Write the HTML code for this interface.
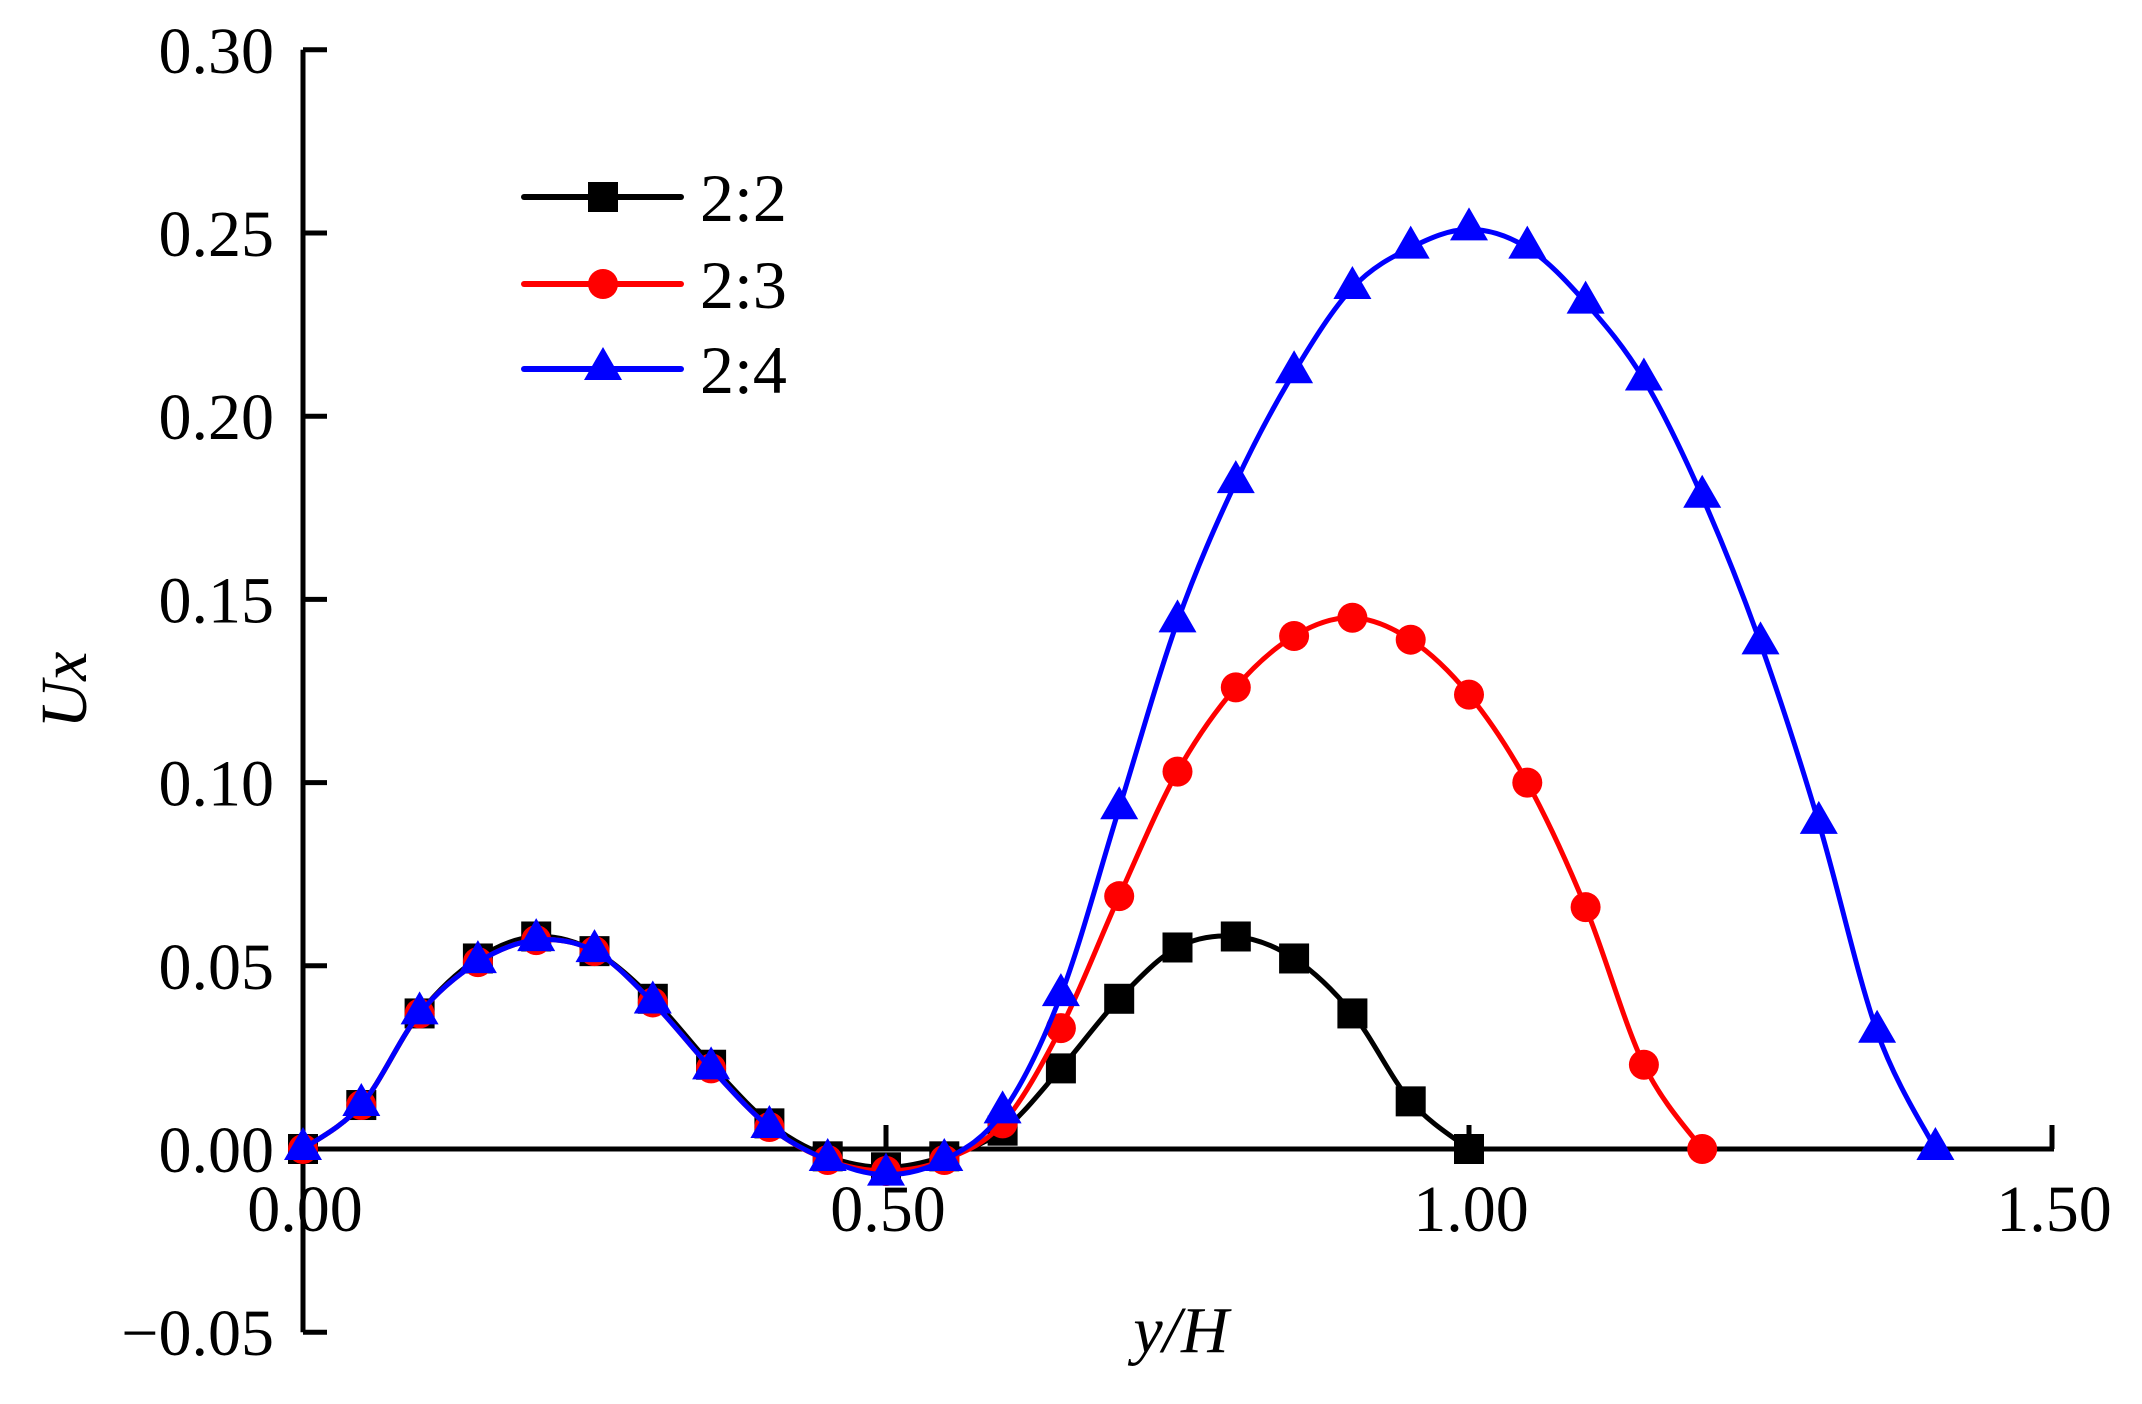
<!DOCTYPE html>
<html><head><meta charset="utf-8"><style>
html,body{margin:0;padding:0;background:#fff;}
svg{display:block;}
text{font-family:"Liberation Serif","DejaVu Serif",serif;}
</style></head><body>
<svg id="chart" width="2142" height="1404" viewBox="0 0 2142 1404" xmlns="http://www.w3.org/2000/svg">
<g id="axes"></g>
<g id="series"></g>
<g id="legend"></g>
<text x="0" y="0" font-size="66" font-style="italic" text-anchor="middle" transform="translate(86,690) rotate(-90)">Ux</text>
<text x="1181" y="1352" font-size="66" font-style="italic" text-anchor="middle">y/H</text>
</svg>
<script>
const xs22 = [0,0.05,0.10,0.15,0.20,0.25,0.30,0.35,0.40,0.45,0.50,0.55,0.60,0.65,0.70,0.75,0.80,0.85,0.90,0.95,1.00];
const ys22 = [0,0.012,0.037,0.052,0.058,0.054,0.041,0.023,0.007,-0.002,-0.005,-0.002,0.005,0.022,0.041,0.055,0.058,0.052,0.037,0.013,0];
const xs23 = [0,0.05,0.10,0.15,0.20,0.25,0.30,0.35,0.40,0.45,0.50,0.55,0.60,0.65,0.70,0.75,0.80,0.85,0.90,0.95,1.00,1.05,1.10,1.15,1.20];
const ys23 = [0,0.012,0.037,0.051,0.057,0.054,0.040,0.022,0.006,-0.003,-0.006,-0.003,0.007,0.033,0.069,0.103,0.126,0.140,0.145,0.139,0.124,0.100,0.066,0.023,0];
const xs24 = [0,0.05,0.10,0.15,0.20,0.25,0.30,0.35,0.40,0.45,0.50,0.55,0.60,0.65,0.70,0.75,0.80,0.85,0.90,0.95,1.00,1.05,1.10,1.15,1.20,1.25,1.30,1.35,1.40];
const ys24 = [0,0.012,0.037,0.051,0.057,0.054,0.040,0.022,0.006,-0.003,-0.007,-0.003,0.010,0.042,0.093,0.144,0.182,0.212,0.235,0.246,0.251,0.246,0.231,0.210,0.178,0.138,0.089,0.032,0];
const xTicks = [0,0.5,1.0,1.5];
const xTickLabels = ["0.00","0.50","1.00","1.50"];
const yTicks = [-0.05,0,0.05,0.10,0.15,0.20,0.25,0.30];
const yTickLabels = ["\u22120.05","0.00","0.05","0.10","0.15","0.20","0.25","0.30"];
const seriesNames = ["2:2","2:3","2:4"];

const NS = "http://www.w3.org/2000/svg";
const X0 = 303, XPER = 583/0.5;
const Y0 = 1149, YPER = 183.2/0.05;
function sx(v){return X0 + v*XPER;}
function sy(v){return Y0 - v*YPER;}
function mk(tag, attrs, parent){const e=document.createElementNS(NS,tag);for(const k in attrs)e.setAttribute(k,attrs[k]);parent.appendChild(e);return e;}

const axes = document.getElementById('axes');
// y axis
let yl = mk('line',{x1:X0,y1:sy(0.30),x2:X0,y2:sy(-0.05),stroke:'#000','stroke-width':5},axes);


yTicks.forEach((t,i)=>{
  const tk = mk('line',{x1:X0,y1:sy(t),x2:X0+24,y2:sy(t),stroke:'#000','stroke-width':5},axes);
  
  
  const lb = mk('text',{x:274,y:sy(t)+23,'font-size':66,'text-anchor':'end'},axes);
  lb.textContent = yTickLabels[i];
  
  
});
// x axis at y=0
let xl = mk('line',{x1:X0,y1:Y0,x2:sx(1.5)+2,y2:Y0,stroke:'#000','stroke-width':5},axes);


xTicks.forEach((t,i)=>{
  const tk = mk('line',{x1:sx(t),y1:Y0,x2:sx(t),y2:Y0-24,stroke:'#000','stroke-width':5},axes);
  
  
  const lb = mk('text',{x:sx(t)+2,y:1231,'font-size':66,'text-anchor':'middle'},axes);
  lb.textContent = xTickLabels[i];
  
  
});

function smoothPath(xv, yv){
  const p = xv.map((x,i)=>[sx(x),sy(yv[i])]);
  let d = `M${p[0][0]},${p[0][1]}`;
  for(let i=0;i<p.length-1;i++){
    const p0=p[i-1]||p[i], p1=p[i], p2=p[i+1], p3=p[i+2]||p[i+1];
    const c1=[p1[0]+(p2[0]-p0[0])/6, p1[1]+(p2[1]-p0[1])/6];
    const c2=[p2[0]-(p3[0]-p1[0])/6, p2[1]-(p3[1]-p1[1])/6];
    d += ` C${c1[0]},${c1[1]} ${c2[0]},${c2[1]} ${p2[0]},${p2[1]}`;
  }
  return d;
}
function marker(type, cx, cy, color, parent){
  let e;
  if(type==='square') e = mk('rect',{x:cx-15,y:cy-15,width:30,height:30,fill:color},parent);
  else if(type==='circle') e = mk('circle',{cx:cx,cy:cy,r:15,fill:color},parent);
  else e = mk('polygon',{points:`${cx},${cy-22} ${cx-19},${cy+11} ${cx+19},${cy+11}`,fill:color},parent);
  return e;
}
const series = document.getElementById('series');
const defs = [[xs22,ys22,'#000','square','series-2-2'],[xs23,ys23,'#ff0000','circle','series-2-3'],[xs24,ys24,'#0000ff','triangle','series-2-4']];
defs.forEach(([xv,yv,col,mt,name])=>{
  const g = mk('g',{},series);
  
  
  const path = mk('path',{d:smoothPath(xv,yv),fill:'none',stroke:col,'stroke-width':5},g);
  
  
  xv.forEach((x,i)=>{
    const m = marker(mt,sx(x),sy(yv[i]),col,g);
    
    
  });
});
const legend = document.getElementById('legend');
const legRows = [197,284,369];
defs.forEach(([xv,yv,col,mt,name],i)=>{
  const g = mk('g',{},legend);
  
  
  mk('line',{x1:524,y1:legRows[i],x2:681,y2:legRows[i],stroke:col,'stroke-width':6,'stroke-linecap':'round'},g);
  marker(mt,603,legRows[i],col,g);
  const t = mk('text',{x:700,y:legRows[i]+24,'font-size':68},g);
  t.textContent = seriesNames[i];
});
</script>
</body></html>
